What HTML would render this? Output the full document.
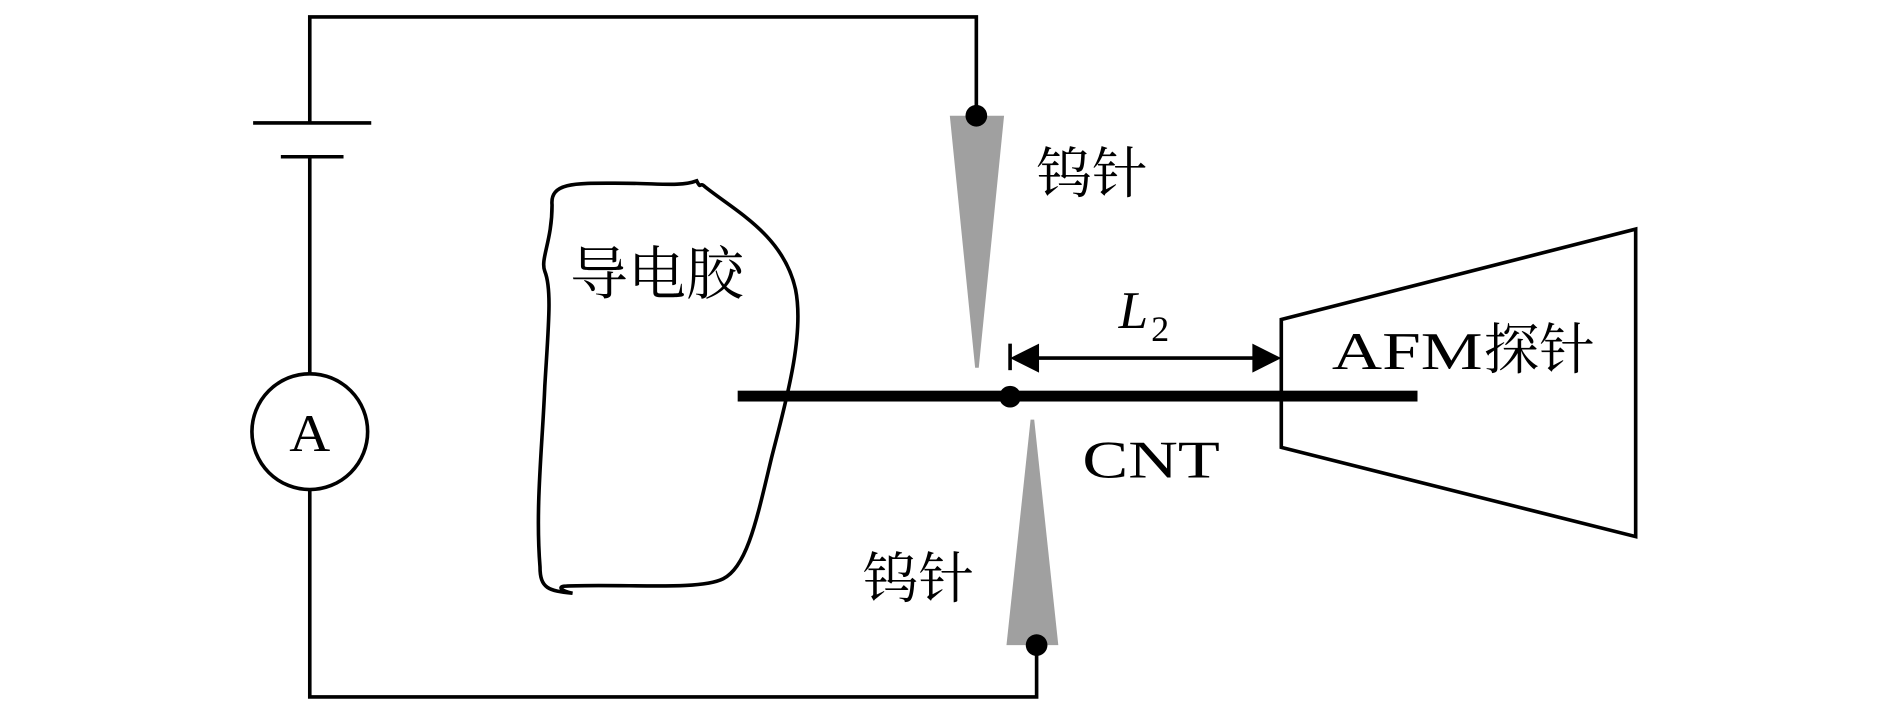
<!DOCTYPE html>
<html><head><meta charset="utf-8"><style>
html,body{margin:0;padding:0;background:#fff;}
svg{display:block;}
text{font-family:"Liberation Serif","Noto Serif CJK SC",serif;fill:#000;}
</style></head><body>
<svg width="1890" height="709" viewBox="0 0 1568 588" preserveAspectRatio="none" xmlns="http://www.w3.org/2000/svg">
<g fill="none" stroke="#000" stroke-width="3">
<polyline points="257,102 257,14 810,14 810,96"/>
<line x1="210" y1="102" x2="308" y2="102"/>
<line x1="233" y1="130" x2="285" y2="130"/>
<line x1="257" y1="130" x2="257" y2="310"/>
<ellipse cx="257" cy="358" rx="48" ry="48"/>
<polyline points="257,406 257,578 860,578 860,535"/>
<path d="M458,170 C456,150 480,152 520,152 C545,152 565,155 578,150 C582,158 580,150 585,155 C610,175 650,195 660,240 C668,280 650,340 640,380 C628,430 620,470 600,480 C580,490 520,484 470,486 C462,486 465,490 475,492 C455,490 448,488 448,470 C444,420 450,370 452,320 C455,270 458,240 452,225 C448,215 458,200 458,170 Z"/>
<polygon points="1063,265 1357,190 1357,445 1063,371"/>
<line x1="838" y1="285" x2="838" y2="307"/>
<line x1="855" y1="297" x2="1045" y2="297"/>
</g>
<polygon points="788,96 833,96 812,305 809,305" fill="#a0a0a0"/>
<polygon points="835,535 878,535 858,348 855,348" fill="#a0a0a0"/>
<rect x="612" y="324" width="564" height="9" fill="#000"/>
<circle cx="810" cy="96" r="9" fill="#000"/>
<circle cx="860" cy="535" r="9" fill="#000"/>
<circle cx="838" cy="329" r="9" fill="#000"/>
<polygon points="838,297 862,285 862,309" fill="#000"/>
<polygon points="1063,297 1039,285 1039,309" fill="#000"/>
<text x="257" y="374" font-size="44" text-anchor="middle" textLength="34" lengthAdjust="spacingAndGlyphs">A</text>
<text x="473" y="244" font-size="48">导电胶</text>
<text x="860" y="160" font-size="46">钨针</text>
<text x="716" y="496" font-size="46">钨针</text>
<text x="898" y="396" font-size="44" textLength="114" lengthAdjust="spacingAndGlyphs">CNT</text>
<text x="1105" y="306" font-size="44" textLength="125" lengthAdjust="spacingAndGlyphs">AFM</text>
<text x="1231" y="306" font-size="46">探针</text>
<text x="928" y="272" font-size="44" font-style="italic">L</text>
<text x="955" y="283" font-size="30">2</text>
</svg>
</body></html>
